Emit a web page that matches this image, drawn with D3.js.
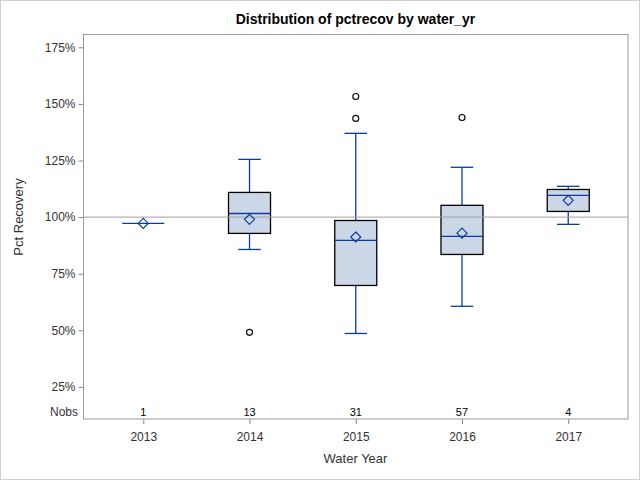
<!DOCTYPE html>
<html>
<head>
<meta charset="utf-8">
<script src="https://cdn.jsdelivr.net/npm/d3@7"></script>
<style>
  body { margin: 0; background: #fff; }
  svg { display: block; font-family: "Liberation Sans", Arial, sans-serif; }
</style>
</head>
<body>
<svg id="chart" width="640" height="480"></svg>
<script>
// values (percent recovery)
const years = ["2013", "2014", "2015", "2016", "2017"];
const nobs = [1, 13, 31, 57, 4];
const q1 = [97.2, 92.8, 69.8, 83.5, 102.5];
const median = [97.2, 101.6, 89.7, 91.5, 109.6];
const q3 = [97.2, 110.9, 98.5, 105.2, 112.2];
const whiskerLow = [97.2, 85.7, 48.6, 60.6, 96.8];
const whiskerHigh = [97.2, 125.5, 137.0, 122.0, 113.6];
const means = [97.2, 99.0, 91.2, 92.9, 107.4];
const outliers = [[], [49.1], [143.6, 153.3], [144.0], []];
const yTicks = [25, 50, 75, 100, 125, 150, 175];

const svg = d3.select("#chart");
const plotLeft = 83.5, plotRight = 628, plotTop = 34.5, plotBottom = 419;
const blue = "#0B3BA1";

// outer border
svg.append("rect").attr("x", 0.5).attr("y", 0.5).attr("width", 639).attr("height", 479)
  .attr("fill", "#fff").attr("stroke", "#d0d0d0");

const x = d3.scalePoint().domain(years).range([plotLeft, plotRight]).padding(0.5625);
const y = d3.scaleLinear().domain([25, 175]).range([386.9, 47.3]);

// y axis
const yAxis = svg.append("g").attr("transform", `translate(${plotLeft},0)`)
  .call(d3.axisLeft(y).tickValues(yTicks).tickSize(5).tickPadding(3).tickFormat(d => d + "%"));
yAxis.select(".domain").remove();
yAxis.selectAll("line").attr("stroke", "#888");
yAxis.selectAll("text").attr("font-size", 12).attr("fill", "#333")
  .attr("font-family", "Liberation Sans, Arial, sans-serif");

// x axis
const xAxis = svg.append("g").attr("transform", `translate(0,${plotBottom})`)
  .call(d3.axisBottom(x).tickSize(5).tickPadding(8));
xAxis.select(".domain").remove();
xAxis.selectAll("line").attr("stroke", "#888");
xAxis.selectAll("text").attr("font-size", 12).attr("fill", "#333")
  .attr("font-family", "Liberation Sans, Arial, sans-serif");

const boxW = 42, capW = 22.5;
const g = svg.append("g");

years.forEach((yr, i) => {
  const cx = x(yr);
  const b = g.append("g");
  if (nobs[i] === 1) {
    b.append("line").attr("x1", cx - 21).attr("x2", cx + 21)
      .attr("y1", y(median[i])).attr("y2", y(median[i]))
      .attr("stroke", blue).attr("stroke-width", 1.3);
  } else {
    // whiskers
    b.append("line").attr("x1", cx).attr("x2", cx).attr("y1", y(q3[i])).attr("y2", y(whiskerHigh[i]))
      .attr("stroke", blue).attr("stroke-width", 1.3);
    b.append("line").attr("x1", cx).attr("x2", cx).attr("y1", y(q1[i])).attr("y2", y(whiskerLow[i]))
      .attr("stroke", blue).attr("stroke-width", 1.3);
    [whiskerHigh[i], whiskerLow[i]].forEach(v => {
      b.append("line").attr("x1", cx - capW / 2).attr("x2", cx + capW / 2)
        .attr("y1", y(v)).attr("y2", y(v)).attr("stroke", blue).attr("stroke-width", 1.3);
    });
    b.append("rect").attr("x", cx - boxW / 2).attr("y", y(q3[i]))
      .attr("width", boxW).attr("height", y(q1[i]) - y(q3[i]))
      .attr("fill", "#cbd7e6").attr("stroke", "#000").attr("stroke-width", 1.3);
    b.append("line").attr("x1", cx - boxW / 2).attr("x2", cx + boxW / 2)
      .attr("y1", y(median[i])).attr("y2", y(median[i]))
      .attr("stroke", blue).attr("stroke-width", 1.3);
  }
});

// reference line at 100%
g.append("line").attr("x1", plotLeft).attr("x2", plotRight).attr("y1", y(100)).attr("y2", y(100))
  .attr("stroke", "#a0a0a0").attr("stroke-width", 1);

years.forEach((yr, i) => {
  const cx = x(yr);
  // mean diamond
  const my = y(means[i]);
  g.append("path").attr("d", `M${cx},${my - 5}L${cx + 5},${my}L${cx},${my + 5}L${cx - 5},${my}Z`)
    .attr("fill", "none").attr("stroke", blue).attr("stroke-width", 1.2);
  outliers[i].forEach(v => {
    g.append("circle").attr("cx", cx).attr("cy", y(v)).attr("r", 3)
      .attr("fill", "none").attr("stroke", "#000").attr("stroke-width", 1.1);
  });
  // Nobs counts
  svg.append("text").attr("x", cx).attr("y", 415.5).attr("text-anchor", "middle")
    .attr("font-size", 11).attr("fill", "#000").text(nobs[i]);
});

// frame
svg.append("rect").attr("x", plotLeft).attr("y", plotTop)
  .attr("width", plotRight - plotLeft).attr("height", plotBottom - plotTop)
  .attr("fill", "none").attr("stroke", "#9a9a9a");

svg.append("text").attr("x", 78).attr("y", 416).attr("text-anchor", "end")
  .attr("font-size", 12).attr("fill", "#333").text("Nobs");

// titles
svg.append("text").attr("x", 355.5).attr("y", 24).attr("text-anchor", "middle")
  .attr("font-size", 14).attr("font-weight", "bold").attr("fill", "#000")
  .text("Distribution of pctrecov by water_yr");
svg.append("text").attr("x", 355.5).attr("y", 463).attr("text-anchor", "middle")
  .attr("font-size", 13).attr("fill", "#333").text("Water Year");
svg.append("text").attr("transform", "translate(23,217) rotate(-90)").attr("text-anchor", "middle")
  .attr("font-size", 13).attr("fill", "#333").text("Pct Recovery");
</script>
</body>
</html>
